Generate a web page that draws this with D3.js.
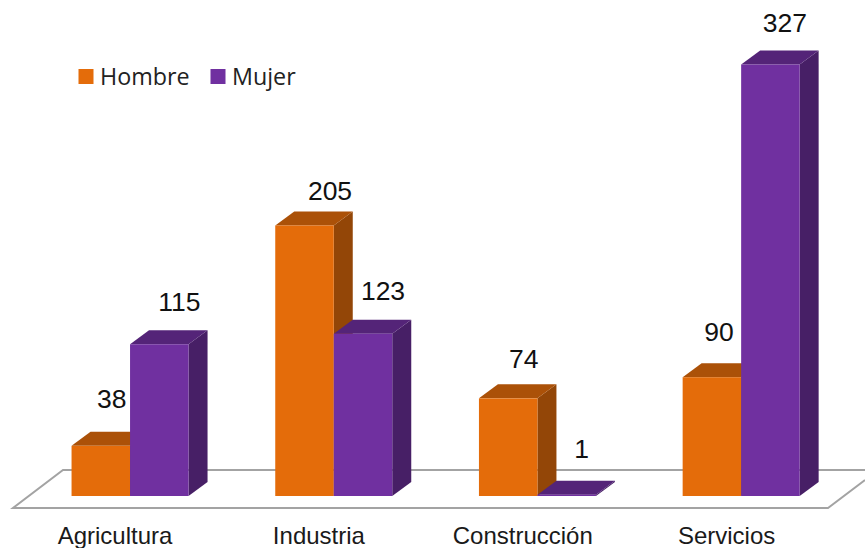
<!DOCTYPE html>
<html><head><meta charset="utf-8">
<script src="https://cdnjs.cloudflare.com/ajax/libs/d3/7.8.5/d3.min.js"></script>
<style>html,body{margin:0;padding:0;background:#fff}svg{display:block}</style>
</head><body><svg id="c" width="865" height="548"></svg>
<script>
const categories = ["Agricultura", "Industria", "Construcción", "Servicios"];
const seriesNames = ["Hombre", "Mujer"];
const hombre = [38, 205, 74, 90];
const mujer = [115, 123, 1, 327];

const W = 865, H = 548;
const svg = d3.select("#c");
const colors = {
  Hombre: {front: "#E46C0A", top: "#AB5108", side: "#934607"},
  Mujer: {front: "#7030A0", top: "#542478", side: "#471F66"}
};
const depthX = 19, depthY = 14;

const x = d3.scaleBand().domain(categories).range([28.2, 843]);
const inner = d3.scaleBand().domain(seriesNames).range([-58.5, 58.5]);
const y = d3.scaleLinear().domain([0, 327]).range([496, 64.5]);

// floor
const floorPath = d3.path();
floorPath.moveTo(865, 470); floorPath.lineTo(63, 470); floorPath.lineTo(13, 508);
floorPath.lineTo(828, 508); floorPath.lineTo(865, 480);
svg.append("path").attr("d", floorPath.toString()).attr("fill", "#fff")
  .attr("stroke", "#A3A3A3").attr("stroke-width", 2);

const rows = [];
categories.forEach((c, i) => {
  rows.push({cat: c, s: "Hombre", v: hombre[i]});
  rows.push({cat: c, s: "Mujer", v: mujer[i]});
});

const poly = pts => d3.line()(pts) + "Z";
const bars = svg.selectAll("g.bar").data(rows).join("g").attr("class", "bar");
bars.each(function (d) {
  const g = d3.select(this);
  const cx = x(d.cat) + x.bandwidth() / 2;
  const x0 = cx + inner(d.s), x1 = x0 + inner.bandwidth();
  const yT = y(d.v), yB = y(0);
  g.append("path").attr("fill", colors[d.s].side)
    .attr("d", poly([[x1, yT], [x1 + depthX, yT - depthY], [x1 + depthX, yB - depthY], [x1, yB]]));
  g.append("path").attr("fill", colors[d.s].top)
    .attr("d", poly([[x0, yT], [x0 + depthX, yT - depthY], [x1 + depthX, yT - depthY], [x1, yT]]));
  g.append("rect").attr("x", x0).attr("y", yT).attr("width", x1 - x0).attr("height", yB - yT)
    .attr("fill", colors[d.s].front);
});

// data labels: horizontal and vertical placement relative to each bar's top
const labelDx = [11, 20, 25.5, 20, 15.5, 15, 7, 14.5];
const labelDy = [38, 33, 25, 34, 30, 37, 36, 33];
svg.selectAll("text.val").data(rows).join("text").attr("class", "val")
  .attr("x", (d, i) => x(d.cat) + x.bandwidth() / 2 + inner(d.s) + inner.bandwidth() / 2 + labelDx[i])
  .attr("y", (d, i) => y(d.v) - labelDy[i])
  .attr("text-anchor", "middle")
  .attr("font-family", "Liberation Sans")
  .attr("font-size", 26.5).attr("fill", "#111")
  .text(d => d.v);

// category labels
svg.selectAll("text.cat").data(categories).join("text").attr("class", "cat")
  .attr("x", (d, i) => x(d) + x.bandwidth() / 2 - 15 + i * 0.15)
  .attr("y", 544)
  .attr("text-anchor", "middle")
  .attr("font-family", "Liberation Sans")
  .attr("font-size", 24).attr("fill", "#1a1a1a")
  .text(d => d);

// legend
const legendX = d3.scaleOrdinal().domain(seriesNames).range([78.5, 210.5]);
const lg = svg.selectAll("g.lg").data(seriesNames).join("g").attr("class", "lg")
  .attr("transform", d => `translate(${legendX(d)},69)`);
lg.append("rect").attr("width", 15).attr("height", 15).attr("fill", d => colors[d].front);
lg.append("text").attr("x", 21.5).attr("y", 16)
  .attr("font-family", "Open Sans").attr("font-size", 23.3).attr("fill", "#222")
  .text(d => d);
</script></body></html>
